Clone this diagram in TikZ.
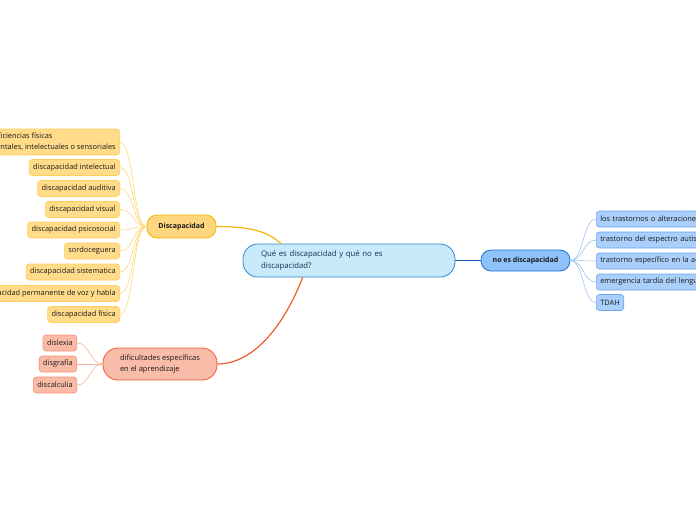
\documentclass[tikz,border=0pt]{standalone}
\usepackage{fontspec}
\setmainfont{Open Sans}
\definecolor{cfill}{HTML}{C8EAFB}
\definecolor{cbord}{HTML}{2F86C9}
\definecolor{ctext}{HTML}{14304F}
\definecolor{ymain}{HTML}{FFD57E}
\definecolor{ymainb}{HTML}{F6B500}
\definecolor{yfill}{HTML}{FFDB8A}
\definecolor{ybord}{HTML}{FFCF5C}
\definecolor{yline}{HTML}{FFD77A}
\definecolor{oline}{HTML}{EE5A2A}
\definecolor{ofill}{HTML}{F9BCA8}
\definecolor{obord}{HTML}{EE5A2A}
\definecolor{ocfill}{HTML}{F9BBA6}
\definecolor{ocbord}{HTML}{F4937A}
\definecolor{ocline}{HTML}{F8B09A}
\definecolor{bline}{HTML}{1C5FB8}
\definecolor{bfill}{HTML}{8FC2F8}
\definecolor{bbord}{HTML}{1E6FD9}
\definecolor{bcfill}{HTML}{A9CFFA}
\definecolor{bcbord}{HTML}{6AA5EE}
\definecolor{bcline}{HTML}{9CC3F2}
\definecolor{tx}{HTML}{1A1A1A}
\begin{document}
\begin{tikzpicture}[x=1pt,y=-1pt,
  font=\fontsize{7.4}{11}\selectfont, text=tx,
  child/.style={rounded corners=3pt, line width=0.6pt, minimum height=16pt, inner xsep=4pt, inner ysep=0pt},
  ychild/.style={child, draw=ybord, fill=yfill, anchor=east},
  ochild/.style={child, draw=ocbord, fill=ocfill, anchor=east},
  bchild/.style={child, draw=bcbord, fill=bcfill, anchor=west},
  ylink/.style={draw=yline, line width=0.6pt},
  olink/.style={draw=ocline, line width=0.6pt},
  blink/.style={draw=bcline, line width=0.6pt}]
\useasboundingbox (0,0) rectangle (696,520);
% central
\node[draw=cbord, fill=cfill, line width=0.8pt, rounded corners=15pt,
  text width=176pt, align=left, inner xsep=18pt, inner ysep=0pt,
  minimum height=33pt, text=ctext, font=\fontsize{7.8}{11.5}\selectfont] (central) at (349,260.5)
  {Qué es discapacidad y qué no es\\discapacidad?};
% main topics
\node[draw=ymainb, fill=ymain, line width=0.8pt, rounded corners=10pt, minimum width=69pt,
  minimum height=23pt, inner sep=0pt, font=\fontsize{7}{10}\selectfont\bfseries] (disc) at (181.5,226.5) {Discapacidad};
\node[draw=obord, fill=ofill, line width=0.8pt, rounded corners=15pt, align=left, minimum width=114pt,
  inner xsep=0pt, inner ysep=0pt, minimum height=32pt, font=\fontsize{7.5}{11.5}\selectfont] (dif) at (160,364)
  {dificultades específicas\\en el aprendizaje};
\node[draw=bbord, fill=bfill, line width=0.8pt, rounded corners=10pt, minimum width=89pt,
  minimum height=21pt, inner sep=0pt, font=\fontsize{7}{10}\selectfont\bfseries] (noes) at (525.5,260.5) {no es discapacidad};
% Discapacidad children
\node[ychild, minimum height=26pt, align=left] (d1) at (120,142) {deficiencias físicas\\mentales, intelectuales o sensoriales};
\node[ychild] (d2) at (120,167.5) {discapacidad intelectual};
\node[ychild] (d3) at (120,188.5) {discapacidad auditiva};
\node[ychild] (d4) at (120,209.5) {discapacidad visual};
\node[ychild] (d5) at (120,230) {discapacidad psicosocial};
\node[ychild] (d6) at (120,251) {sordoceguera};
\node[ychild] (d7) at (120,272) {discapacidad sistematica};
\node[ychild] (d8) at (120,293.5) {discapacidad permanente de voz y habla};
\node[ychild] (d9) at (120,314.5) {discapacidad física};
% dificultades children
\node[ochild] (f1) at (77,343) {dislexia};
\node[ochild] (f2) at (77,364) {disgrafía};
\node[ochild] (f3) at (77,385) {discalculia};
% no es children
\node[bchild, text width=150pt, align=left] (n1) at (596,219) {los trastornos o alteraciones};
\node[bchild, text width=150pt, align=left] (n2) at (596,240) {trastorno del espectro autista};
\node[bchild, text width=150pt, align=left] (n3) at (596,261) {trastorno específico en la ac};
\node[bchild, text width=150pt, align=left] (n4) at (596,282) {emergencia tardía del lenguaje};
\node[bchild] (n5) at (596,302.5) {TDAH};
% main connectors
\draw[draw=ymainb, line width=1.2pt] (disc.east) .. controls +(40,0) and +(-12,-10) .. (central.166);
\draw[draw=oline, line width=1.2pt] (central.200) .. controls +(-15,40) and +(40,0) .. (dif.east);
\draw[draw=bline, line width=1.2pt] (central.east) -- (noes.west);
% child connectors
\foreach \c in {d1,d2,d3,d4,d5,d6,d7,d8,d9}
  \draw[ylink] (disc.west) .. controls +(-14,0) and +(14,0) .. (\c.east);
\foreach \c in {f1,f2,f3}
  \draw[olink] (dif.west) .. controls +(-13,0) and +(13,0) .. (\c.east);
\foreach \c in {n1,n2,n3,n4,n5}
  \draw[blink] (noes.east) .. controls +(13,0) and +(-13,0) .. (\c.west);
\end{tikzpicture}
\end{document}
